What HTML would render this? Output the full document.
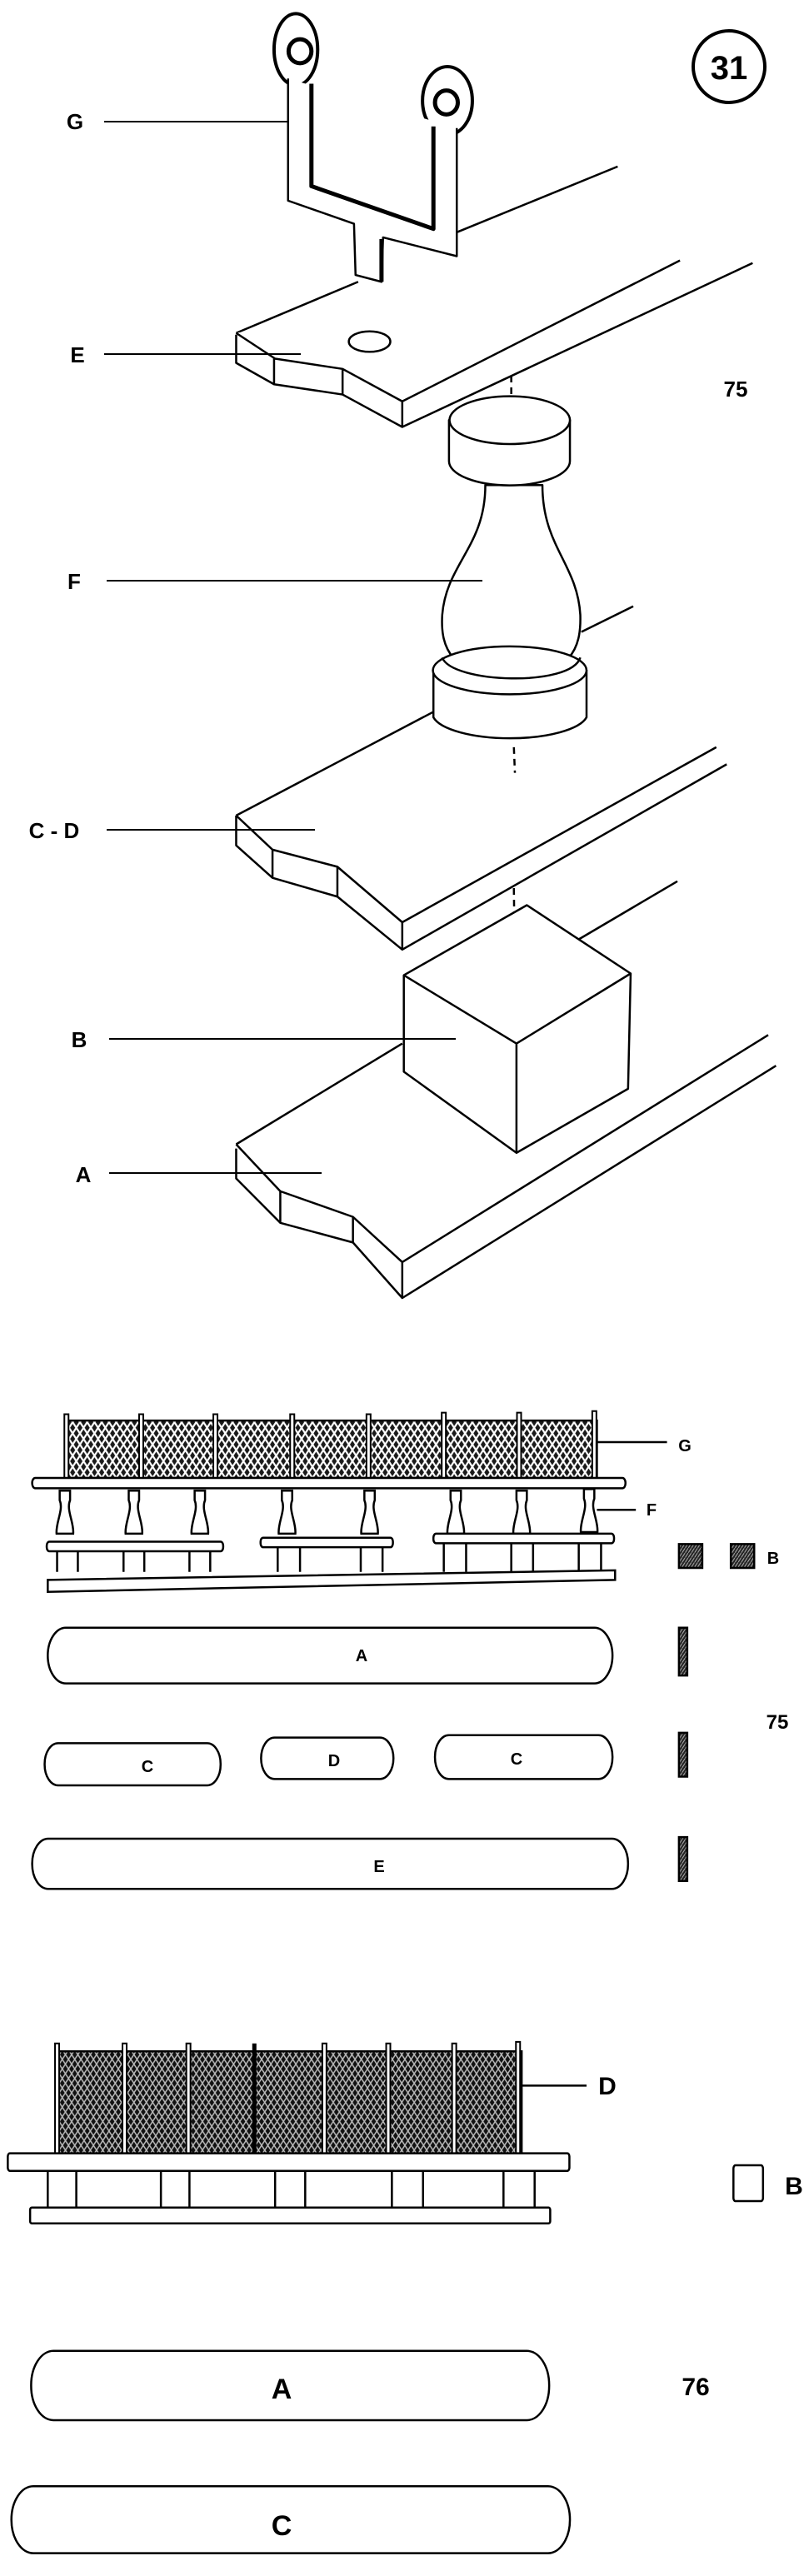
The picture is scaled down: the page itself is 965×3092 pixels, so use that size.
<!DOCTYPE html>
<html><head><meta charset="utf-8"><style>
html,body{margin:0;padding:0;background:#fff;}
svg{display:block;}
text{font-family:"Liberation Sans",sans-serif;font-weight:bold;fill:#000;}
</style></head><body>
<svg width="965" height="3092" viewBox="0 0 965 3092" xmlns="http://www.w3.org/2000/svg">
<defs>
<pattern id="lat" patternUnits="userSpaceOnUse" width="14" height="14">
<rect width="14" height="14" fill="#1a1a1a"/>
<path d="M0,0 L14,14 M14,0 L0,14" stroke="#fff" stroke-width="3"/>
</pattern>
<pattern id="lat2" patternUnits="userSpaceOnUse" width="12" height="12">
<rect width="12" height="12" fill="#111"/>
<path d="M0,0 L12,12 M12,0 L0,12" stroke="#bbb" stroke-width="2"/>
</pattern>
<pattern id="hat" patternUnits="userSpaceOnUse" width="6" height="6">
<rect width="6" height="6" fill="#222"/>
<path d="M0,6 L6,0" stroke="#aaa" stroke-width="1.5"/>
</pattern>
</defs>

<!-- TOP exploded view -->
<g transform="matrix(0.623,0,0,1.025,0,0)" fill="none" stroke="#000" stroke-width="2.5" stroke-linejoin="round">
<g vector-effect="non-scaling-stroke">
<!-- E board -->
<path vector-effect="non-scaling-stroke" d="M455,390 L690,330 M880,272 L1190,195"/>
<path vector-effect="non-scaling-stroke" fill="#fff" d="M455,390 L530,420 L660,432 L775,470 L1310,305 M455,392 L455,425 L528,450 L660,462 L775,500 L1450,308 M528,420 L528,450 M660,432 L660,462 M775,470 L775,500"/>
<ellipse vector-effect="non-scaling-stroke" cx="712" cy="400" rx="40" ry="12"/>
<!-- G bracket -->
<ellipse vector-effect="non-scaling-stroke" cx="570" cy="58" rx="42" ry="42" fill="#fff" stroke-width="4"/>
<ellipse vector-effect="non-scaling-stroke" cx="578" cy="60" rx="22" ry="14" stroke-width="5"/>
<ellipse vector-effect="non-scaling-stroke" cx="862" cy="118" rx="48" ry="40" fill="#fff" stroke-width="4"/>
<ellipse vector-effect="non-scaling-stroke" cx="860" cy="120" rx="22" ry="14" stroke-width="5"/>
<path vector-effect="non-scaling-stroke" fill="#fff" d="M555,92 L555,235 L682,262 L685,322 L735,330 L738,278 L880,300 L880,150"/>
<path vector-effect="non-scaling-stroke" stroke-width="5" d="M600,98 L600,218 L835,268 L835,148 M735,280 L735,330"/>
<path vector-effect="non-scaling-stroke" d="M880,272 L880,300"/>
<!-- dashed -->
<path vector-effect="non-scaling-stroke" stroke-dasharray="8,6" d="M985,440 L985,495 M990,875 L992,905 M990,1040 L992,1140"/>
<!-- C-D board -->
<path vector-effect="non-scaling-stroke" d="M455,955 L840,832 M1120,740 L1220,710"/>
<path vector-effect="non-scaling-stroke" d="M455,955 L525,995 L650,1015 L775,1080 L1380,875 M455,955 L455,990 L525,1028 L650,1050 L775,1112 L1400,895 M525,995 L525,1028 M650,1015 L650,1050 M775,1080 L775,1112"/>
<!-- F baluster -->
<path vector-effect="non-scaling-stroke" fill="#fff" d="M935,568 C935,640 860,660 852,720 C848,760 870,790 985,795 C1100,790 1120,760 1118,720 C1112,660 1045,640 1045,568 Z"/>
<path vector-effect="non-scaling-stroke" fill="#fff" d="M835,785 L835,840 A150,30 0 0 0 1130,840 L1130,785 Z"/>
<ellipse vector-effect="non-scaling-stroke" cx="982" cy="785" rx="148" ry="28" fill="#fff"/>
<path vector-effect="non-scaling-stroke" d="M852,770 C870,800 1100,805 1118,770"/>
<path vector-effect="non-scaling-stroke" fill="#fff" d="M865,492 L865,540 A115,28 0 0 0 1098,540 L1098,492 Z"/>
<ellipse vector-effect="non-scaling-stroke" cx="982" cy="492" rx="116" ry="28" fill="#fff"/>
<!-- A board -->
<path vector-effect="non-scaling-stroke" d="M455,1340 L775,1222 M1115,1100 L1305,1032"/>
<path vector-effect="non-scaling-stroke" d="M455,1340 L540,1395 L680,1425 L775,1478 L1480,1212 M455,1345 L455,1380 L540,1432 L680,1455 L775,1520 L1495,1248 M540,1395 L540,1432 M680,1425 L680,1455 M775,1478 L775,1520"/>
<!-- B cube -->
<path vector-effect="non-scaling-stroke" fill="#fff" d="M778,1142 L1015,1060 L1215,1140 L1210,1275 L995,1350 L778,1255 Z"/>
<path vector-effect="non-scaling-stroke" d="M778,1142 L995,1222 L1215,1140 M995,1222 L995,1350"/>
</g>
</g>
<!-- labels top -->
<g stroke="#000" stroke-width="2">
<line x1="125" y1="146" x2="346" y2="146"/>
<line x1="125" y1="425" x2="361" y2="425"/>
<line x1="128" y1="697" x2="579" y2="697"/>
<line x1="128" y1="996" x2="378" y2="996"/>
<line x1="131" y1="1247" x2="547" y2="1247"/>
<line x1="131" y1="1408" x2="386" y2="1408"/>
</g>
<circle cx="875" cy="80" r="43" fill="none" stroke="#000" stroke-width="4"/>
<text x="875" y="95" font-size="40" text-anchor="middle">31</text>
<text x="90" y="155" font-size="26" text-anchor="middle">G</text>
<text x="93" y="435" font-size="26" text-anchor="middle">E</text>
<text x="89" y="707" font-size="26" text-anchor="middle">F</text>
<text x="65" y="1006" font-size="26" text-anchor="middle">C - D</text>
<text x="95" y="1257" font-size="26" text-anchor="middle">B</text>
<text x="100" y="1419" font-size="26" text-anchor="middle">A</text>
<text x="883" y="476" font-size="26" text-anchor="middle">75</text>

<!-- BOTTOM -->
<g transform="translate(0,1600) scale(0.623,0.956)" fill="none" stroke="#000" stroke-width="2.5">
<!-- railing 1 -->
<rect vector-effect="non-scaling-stroke" x="128" y="110" width="1022" height="72" fill="url(#lat)"/>
<g vector-effect="non-scaling-stroke" fill="#fff" stroke-width="2">
<rect vector-effect="non-scaling-stroke" x="124" y="102" width="8" height="82"/><rect vector-effect="non-scaling-stroke" x="268" y="102" width="8" height="82"/><rect vector-effect="non-scaling-stroke" x="411" y="102" width="8" height="82"/><rect vector-effect="non-scaling-stroke" x="559" y="102" width="8" height="82"/><rect vector-effect="non-scaling-stroke" x="706" y="102" width="8" height="82"/><rect vector-effect="non-scaling-stroke" x="851" y="100" width="8" height="84"/><rect vector-effect="non-scaling-stroke" x="996" y="100" width="8" height="84"/><rect vector-effect="non-scaling-stroke" x="1141" y="98" width="8" height="86"/>
</g>
<rect vector-effect="non-scaling-stroke" x="62" y="182" width="1143" height="13" rx="6" fill="#fff"/>
<g vector-effect="non-scaling-stroke" fill="#fff" stroke-width="2.5">
<path vector-effect="non-scaling-stroke" d="M115,198 h20 v12 c-8,12 8,28 6,42 h-32 c-2,-14 14,-30 6,-42 z M248,198 h20 v12 c-8,12 8,28 6,42 h-32 c-2,-14 14,-30 6,-42 z M375,198 h20 v12 c-8,12 8,28 6,42 h-32 c-2,-14 14,-30 6,-42 z M543,198 h20 v12 c-8,12 8,28 6,42 h-32 c-2,-14 14,-30 6,-42 z M702,198 h20 v12 c-8,12 8,28 6,42 h-32 c-2,-14 14,-30 6,-42 z M868,198 h20 v12 c-8,12 8,28 6,42 h-32 c-2,-14 14,-30 6,-42 z M995,198 h20 v12 c-8,12 8,28 6,42 h-32 c-2,-14 14,-30 6,-42 z M1125,196 h20 v12 c-8,12 8,28 6,42 h-32 c-2,-14 14,-30 6,-42 z"/>
</g>
<rect vector-effect="non-scaling-stroke" x="90" y="262" width="340" height="12" rx="5" fill="#fff"/>
<rect vector-effect="non-scaling-stroke" x="502" y="257" width="255" height="12" rx="5" fill="#fff"/>
<rect vector-effect="non-scaling-stroke" x="835" y="252" width="348" height="12" rx="5" fill="#fff"/>
<path vector-effect="non-scaling-stroke" d="M110,274 V300 M150,274 V300 M238,274 V300 M278,274 V300 M365,274 V300 M405,274 V300 M535,269 V300 M578,269 V300 M695,269 V300 M737,269 V300 M855,264 V300 M898,264 V300 M985,264 V300 M1027,264 V300 M1115,264 V300 M1158,264 V300"/>
<path vector-effect="non-scaling-stroke" fill="#fff" d="M92,310 L1185,298 L1185,310 L92,325 Z"/>
<path vector-effect="non-scaling-stroke" d="M1150,137 L1285,137 M1150,222 L1225,222"/>
<rect vector-effect="non-scaling-stroke" x="1308" y="265" width="45" height="30" fill="url(#hat)"/>
<rect vector-effect="non-scaling-stroke" x="1408" y="265" width="45" height="30" fill="url(#hat)"/>
<rect vector-effect="non-scaling-stroke" x="1308" y="370" width="16" height="60" fill="url(#hat)"/>
<rect vector-effect="non-scaling-stroke" x="1308" y="502" width="16" height="55" fill="url(#hat)"/>
<rect vector-effect="non-scaling-stroke" x="1308" y="633" width="16" height="55" fill="url(#hat)"/>
<rect vector-effect="non-scaling-stroke" x="92" y="370" width="1088" height="70" rx="35"/>
<rect vector-effect="non-scaling-stroke" x="86" y="515" width="339" height="53" rx="26"/>
<rect vector-effect="non-scaling-stroke" x="503" y="508" width="255" height="52" rx="26"/>
<rect vector-effect="non-scaling-stroke" x="838" y="505" width="342" height="55" rx="27"/>
<rect vector-effect="non-scaling-stroke" x="62" y="635" width="1148" height="63" rx="31"/>
<!-- railing 2 -->
<rect vector-effect="non-scaling-stroke" x="108" y="902" width="897" height="130" fill="url(#lat2)"/>
<g vector-effect="non-scaling-stroke" fill="#fff" stroke-width="2">
<rect vector-effect="non-scaling-stroke" x="106" y="892" width="8" height="140"/><rect vector-effect="non-scaling-stroke" x="236" y="892" width="8" height="140"/><rect vector-effect="non-scaling-stroke" x="359" y="892" width="8" height="140"/><rect vector-effect="non-scaling-stroke" x="621" y="892" width="8" height="140"/><rect vector-effect="non-scaling-stroke" x="744" y="892" width="8" height="140"/><rect vector-effect="non-scaling-stroke" x="871" y="892" width="8" height="140"/><rect vector-effect="non-scaling-stroke" x="994" y="890" width="8" height="142"/>
</g>
<path vector-effect="non-scaling-stroke" stroke-width="5" d="M490,892 V1032"/>
<rect vector-effect="non-scaling-stroke" x="15" y="1030" width="1082" height="22" rx="4" fill="#fff"/>
<path vector-effect="non-scaling-stroke" d="M92,1052 V1100 M147,1052 V1100 M310,1052 V1100 M365,1052 V1100 M530,1052 V1100 M588,1052 V1100 M755,1052 V1100 M815,1052 V1100 M970,1052 V1100 M1030,1052 V1100"/>
<rect vector-effect="non-scaling-stroke" x="58" y="1098" width="1002" height="20" rx="3" fill="#fff"/>
<path vector-effect="non-scaling-stroke" d="M1005,945 L1130,945"/>
<rect vector-effect="non-scaling-stroke" x="1413" y="1045" width="57" height="45" rx="4"/>
<rect vector-effect="non-scaling-stroke" x="60" y="1278" width="998" height="87" rx="43"/>
<rect vector-effect="non-scaling-stroke" x="22" y="1448" width="1076" height="84" rx="42"/>
</g>
<text x="822" y="1742" font-size="20" text-anchor="middle">G</text>
<text x="782" y="1819" font-size="20" text-anchor="middle">F</text>
<text x="928" y="1877" font-size="20" text-anchor="middle">B</text>
<text x="933" y="2075" font-size="24" text-anchor="middle">75</text>
<text x="434" y="1994" font-size="20" text-anchor="middle">A</text>
<text x="177" y="2127" font-size="20" text-anchor="middle">C</text>
<text x="401" y="2120" font-size="20" text-anchor="middle">D</text>
<text x="620" y="2118" font-size="20" text-anchor="middle">C</text>
<text x="455" y="2247" font-size="20" text-anchor="middle">E</text>
<text x="729" y="2514" font-size="30" text-anchor="middle">D</text>
<text x="953" y="2634" font-size="30" text-anchor="middle">B</text>
<text x="338" y="2879" font-size="34" text-anchor="middle">A</text>
<text x="835" y="2875" font-size="30" text-anchor="middle">76</text>
<text x="338" y="3043" font-size="34" text-anchor="middle">C</text>
</svg>
</body></html>
